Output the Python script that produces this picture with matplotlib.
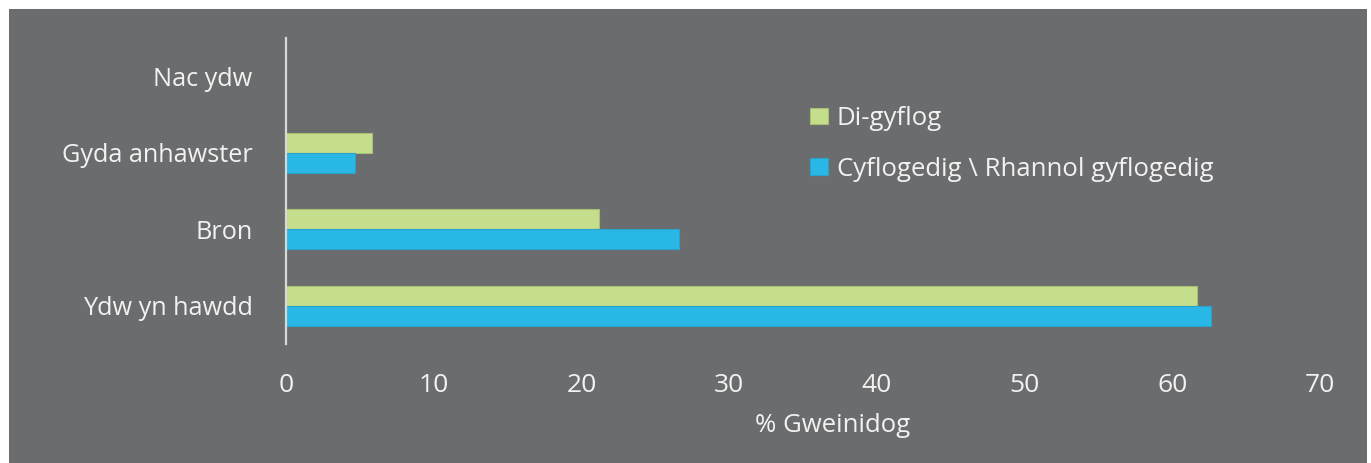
import matplotlib.pyplot as plt
import matplotlib.patches as mpatches
import numpy as np

# DATA
categories = ["Ydw yn hawdd", "Bron", "Gyda anhawster", "Nac ydw"]
di_gyflog = [61.7, 21.2, 5.8, 0]
cyflogedig = [62.6, 26.6, 4.7, 0]
series_names = ["Di-gyflog", "Cyflogedig \\ Rhannol gyflogedig"]
xticks = [0, 10, 20, 30, 40, 50, 60, 70]

BG = "#6b6c6e"
GREEN = "#c5de8c"
BLUE = "#29b8e5"
TXT = "#f2f2f2"

plt.rcParams['font.family'] = ['Open Sans', 'DejaVu Sans']

fig = plt.figure(figsize=(13.71, 4.63), dpi=100, facecolor="white")
# grey panel with thin white margin top/left/right
fig.patches.append(mpatches.Rectangle((9 / 1371, 0), (1367 - 9) / 1371, (463 - 9) / 463,
                                      transform=fig.transFigure, facecolor=BG,
                                      edgecolor="none", zorder=-10))

ax = fig.add_axes([286 / 1371, (463 - 344) / 463, (1320 - 286) / 1371, (344 - 38) / 463])
ax.set_facecolor("none")

y = np.arange(len(categories))
h = 0.26
ax.barh(y + h / 2, di_gyflog, height=h, color=GREEN, edgecolor="#a9bf74", linewidth=0.8,
        label=series_names[0])
ax.barh(y - h / 2, cyflogedig, height=h, color=BLUE, edgecolor="#2aa3cc", linewidth=0.8,
        label=series_names[1])

ax.set_xlim(0, 70)
ax.set_ylim(-0.5, 3.5)
ax.set_xticks(xticks)
ax.set_yticks(y)
ax.set_yticklabels(categories)

for s in ["top", "right", "bottom"]:
    ax.spines[s].set_visible(False)
ax.spines["left"].set_color("#d8d8d8")
ax.spines["left"].set_linewidth(1.6)

ax.tick_params(axis="x", length=0, pad=21, labelsize=19, labelcolor=TXT)
ax.tick_params(axis="y", length=0, pad=24, labelsize=18.2, labelcolor=TXT)
ax.set_xlabel("% Gweinidog", fontsize=18.5, color=TXT, labelpad=11)
ax.xaxis.label.set_x(0.529)

ax.legend(loc="upper left", bbox_to_anchor=(810 / 1371, 1 - 106 / 463),
          bbox_transform=fig.transFigure, frameon=False, fontsize=18.5,
          labelcolor=TXT, handlelength=0.7, handleheight=0.6, handletextpad=0.35,
          labelspacing=1.0, borderpad=0, borderaxespad=0)

fig.savefig("out.png", dpi=100, facecolor="white")
